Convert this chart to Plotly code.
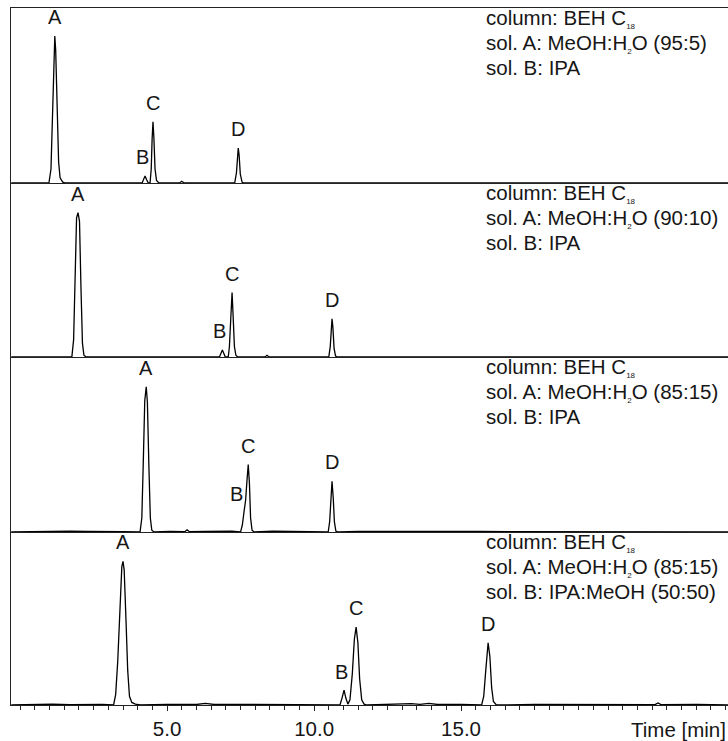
import plotly.graph_objects as go

# Chromatograms of analytes A-D under four eluent conditions (time in min,
# detector signal in % of the panel full scale).
P1_TIME = [-0.3, 0.98, 1.05, 1.10, 1.15, 1.18, 1.21, 1.26, 1.31, 1.36, 1.45, 1.55,
           4.15, 4.21, 4.25, 4.30, 4.36, 4.42, 4.46, 4.49, 4.52, 4.55, 4.59, 4.64, 4.72,
           5.42, 5.50, 5.58, 7.30, 7.36, 7.40, 7.42, 7.45, 7.49, 7.55, 7.62, 24.5]
P1_SIGNAL = [0, 0, 8, 40, 78, 84, 76, 40, 12, 3, 0.5, 0,
             0, 2.5, 4, 2, 0, 0, 8, 25, 35, 26, 8, 1.5, 0,
             0, 1, 0, 0, 6, 17, 20, 16, 5, 0.5, 0, 0]

P2_TIME = [-0.3, 1.76, 1.82, 1.87, 1.92, 1.97, 2.02, 2.07, 2.12, 2.17, 2.25,
           6.78, 6.84, 6.88, 6.93, 6.98, 7.08, 7.12, 7.16, 7.21, 7.25, 7.29, 7.34, 7.40,
           8.33, 8.40, 8.47, 10.50, 10.55, 10.59, 10.61, 10.64, 10.68, 10.73, 10.80, 24.5]
P2_SIGNAL = [0, 0, 10, 50, 80, 83, 78, 40, 8, 1, 0,
             0, 2.5, 4, 2, 0, 0, 6, 20, 37, 22, 6, 1, 0,
             0, 1, 0, 0, 6, 18, 22, 17, 5, 0.5, 0, 0]

P3_TIME = [-0.3, 0.6, 1.1, 1.7, 2.3, 2.9, 3.5, 4.08, 4.14, 4.19, 4.24, 4.29, 4.33, 4.38,
           4.43, 4.48, 4.56, 5.1, 5.60, 5.68, 5.76, 6.3, 6.9, 7.2, 7.50, 7.56, 7.62, 7.67,
           7.72, 7.76, 7.80, 7.84, 7.89, 7.96, 8.6, 9.2, 9.8, 10.48, 10.53, 10.57, 10.61,
           10.65, 10.69, 10.74, 10.82, 11.5, 12.3, 13.1, 14.0, 14.8, 15.6, 24.5]
P3_SIGNAL = [0, 0.4, 0.2, 0.5, 0.3, 0.4, 0.2, 0, 8, 40, 75, 83, 74, 38,
             8, 1, 0, 0.3, 0.2, 1.2, 0.2, 0.4, 0.3, 0.5, 0, 4, 12, 18,
             30, 38.5, 28, 8, 1, 0, 0.5, 0.3, 0.4, 0, 6, 20, 29,
             20, 6, 0.5, 0, 0.4, 0.3, 0.5, 0.3, 0.4, 0.3, 0]

P4_TIME = [-0.3, 0.5, 1.1, 1.7, 2.3, 2.8, 3.18, 3.25, 3.32, 3.40, 3.46, 3.50, 3.54,
           3.60, 3.66, 3.72, 3.80, 3.92, 4.10, 5.0, 6.0, 6.3, 6.6, 7.5, 8.5, 9.3, 10.2,
           10.88, 10.95, 11.02, 11.08, 11.15, 11.22, 11.30, 11.37, 11.43, 11.49, 11.55,
           11.62, 11.70, 11.80, 12.6, 13.3, 13.6, 13.9, 14.2, 15.0, 15.70, 15.77, 15.84,
           15.92, 15.98, 16.04, 16.10, 16.20, 17.5, 19.0, 21.6, 21.7, 21.8, 23.0, 24.5]
P4_SIGNAL = [0, 0.3, 0.5, 0.2, 0.4, 0.3, 0, 6, 25, 60, 80, 83, 78,
             50, 20, 5, 1.5, 0.5, 0, 0.3, 0.3, 0.9, 0.3, 0.4, 0.3, 0.5, 0.3,
             0, 4, 8.6, 4, 0.5, 3, 18, 38, 45, 36, 15,
             3, 0.5, 0, 0.3, 0.8, 0.4, 0.9, 0.3, 0.4, 0, 5, 20,
             36, 28, 10, 2, 0, 0.3, 0.4, 0.2, 1.2, 0.2, 0.3, 0]

TIMES = [P1_TIME, P2_TIME, P3_TIME, P4_TIME]
SIGNALS = [P1_SIGNAL, P2_SIGNAL, P3_SIGNAL, P4_SIGNAL]

# Peak labels: name, retention time, apex signal
PEAK_NAMES = ["A", "B", "C", "D"]
PEAK_TIMES = [
    [1.18, 4.25, 4.52, 7.42],
    [1.97, 6.88, 7.21, 10.61],
    [4.29, 7.62, 7.76, 10.61],
    [3.50, 11.02, 11.43, 15.92],
]
PEAK_HEIGHTS = [
    [84, 4, 35, 20],
    [83, 4, 37, 22],
    [83, 12, 38.5, 29],
    [83, 8.6, 45, 36],
]

SUB = "<sub><span style='font-size:8px'>{}</span></sub>"
COLUMN = "column: BEH C" + SUB.format("18")
SOLVENT_A = ["95:5", "90:10", "85:15", "85:15"]
SOLVENT_B = ["IPA", "IPA", "IPA", "IPA:MeOH (50:50)"]

TICK_VALUES = [5, 10, 15]
TICK_TEXT = ["5.0", "10.0", "15.0"]
X_TITLE = "Time [min]"

# ---- styling ----
FONT = "Liberation Sans, Arial, sans-serif"
INK = "#161616"
TXT = 20.5
LABEL_SHIFT = {  # per panel: (xshift, yshift) for B label, others sit above apex
    0: (-3, 19), 1: (-3, 19), 2: (-8, 17), 3: (-3, 18),
}
INFO_LINE_OFFSETS = [-10, -35, -59]   # px below panel top for each info line

W, H = 728, 741
L, R, T, B = 11, 0, 8, 36
plot_h = H - T - B
edges_px = [705, 532, 357, 183, 8]   # panel boundaries, bottom to top
domains = []
for i in range(4):
    lo = (705 - edges_px[i]) / plot_h
    hi = (705 - edges_px[i + 1]) / plot_h
    domains.append([lo, hi])
domains = domains[::-1]  # top panel first

fig = go.Figure()
layout = dict(
    width=W, height=H,
    margin=dict(l=L, r=R, t=T, b=B, autoexpand=False),
    paper_bgcolor="white", plot_bgcolor="white",
    showlegend=False,
    font=dict(family=FONT, size=TXT, color=INK),
)

X_RANGE = [-0.31, 24.08]
annotations = []
for i in range(4):
    n = "" if i == 0 else str(i + 1)
    xa, ya = "xaxis" + n, "yaxis" + n
    xref, yref = "x" + n, "y" + n
    fig.add_trace(go.Scatter(
        x=TIMES[i], y=SIGNALS[i], mode="lines",
        line=dict(color="black", width=1.3),
        xaxis=xref, yaxis=yref, hoverinfo="skip",
    ))
    bottom = i == 3
    layout[xa] = dict(
        domain=[0, 1], range=X_RANGE, anchor=yref,
        showgrid=False, zeroline=False, automargin=False,
        showline=True, linecolor="#222", linewidth=1.2,
        mirror=(i == 0),
        showticklabels=bottom,
        tickvals=TICK_VALUES if bottom else [],
        ticktext=TICK_TEXT if bottom else [],
        ticks="outside" if bottom else "", ticklen=5, tickwidth=1, tickcolor="#222",
        minor=dict(dtick=0.5, tick0=0, ticks="outside" if bottom else "",
                   ticklen=4, tickcolor="#222") if bottom else dict(ticks=""),
        tickfont=dict(size=TXT, color=INK),
    )
    if i > 0:
        layout[xa]["matches"] = "x"
    layout[ya] = dict(
        domain=domains[i], range=[0, 100], anchor=xref,
        showgrid=False, zeroline=False, showticklabels=False, ticks="",
        showline=True, linecolor="#222", linewidth=1.2, mirror=False,
        automargin=False,
    )
    for k, name in enumerate(PEAK_NAMES):
        xs, ys = (LABEL_SHIFT[i] if name == "B" else (0, 19))
        annotations.append(dict(
            x=PEAK_TIMES[i][k], y=PEAK_HEIGHTS[i][k], xref=xref, yref=yref,
            text=name, showarrow=False, xanchor="center", yanchor="middle",
            xshift=xs, yshift=ys, font=dict(size=20, color=INK),
        ))
    lines = [
        COLUMN,
        "sol. A: MeOH:H" + SUB.format("2") + "O (" + SOLVENT_A[i] + ")",
        "sol. B: " + SOLVENT_B[i],
    ]
    for line, off in zip(lines, INFO_LINE_OFFSETS):
        annotations.append(dict(
            x=15.78, y=1, xref=xref, yref=yref + " domain",
            text=line, showarrow=False, xanchor="left", yanchor="middle",
            align="left", yshift=off, font=dict(size=TXT, color=INK),
        ))

annotations.append(dict(
    x=1, y=0, xref="paper", yref="paper", text=X_TITLE, showarrow=False,
    xanchor="right", yanchor="top", xshift=0, yshift=-11,
    font=dict(size=TXT, color=INK),
))
layout["annotations"] = annotations
fig.update_layout(**layout)
fig.write_html("out.html")
